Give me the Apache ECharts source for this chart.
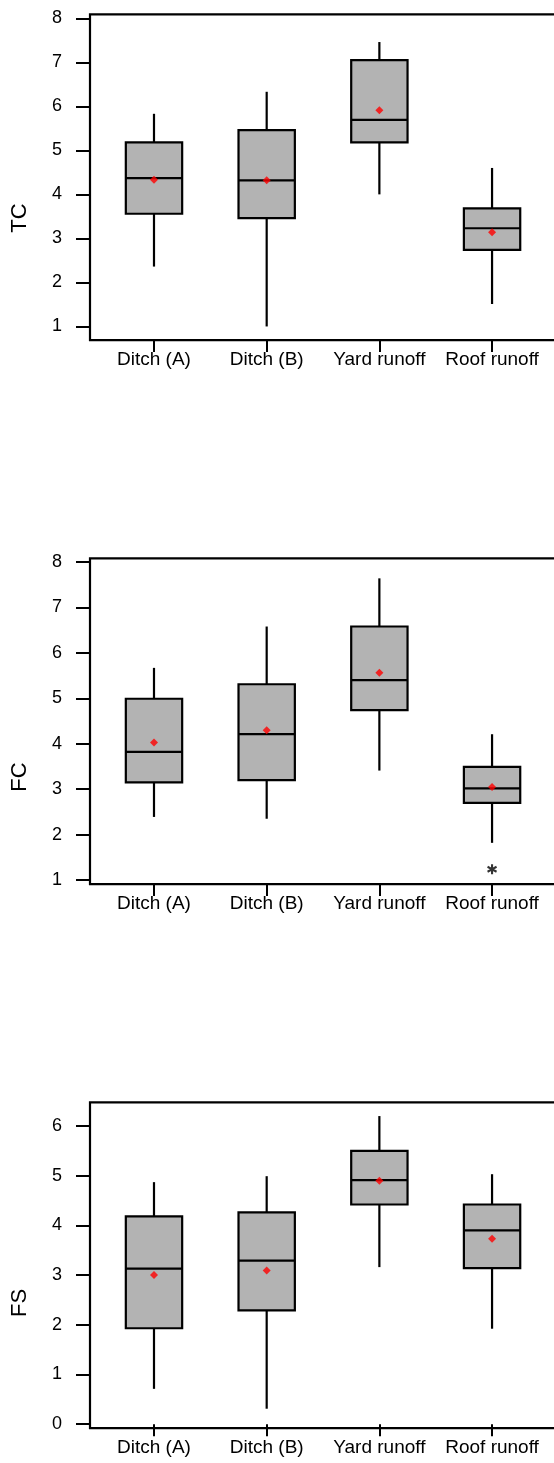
<!DOCTYPE html>
<html>
<head>
<meta charset="utf-8">
<script src="https://cdn.jsdelivr.net/npm/echarts@6/dist/echarts.min.js"></script>
<style>
html,body{margin:0;padding:0;background:#fff;}
#c{width:554px;height:1463px;}
</style>
</head>
<body>
<div id="c"></div>
<script>
// ---- data ----
const categories = ['Ditch (A)', 'Ditch (B)', 'Yard runoff', 'Roof runoff'];

// [min whisker, Q1, median, Q3, max whisker]
const tcBox = [
  [2.36, 3.56, 4.37, 5.18, 5.83],
  [1.00, 3.46, 4.32, 5.46, 6.33],
  [4.00, 5.18, 5.69, 7.05, 7.46],
  [1.51, 2.74, 3.23, 3.68, 4.60]
];
const tcMean = [4.33, 4.32, 5.91, 3.14];
const tcTicks = [1, 2, 3, 4, 5, 6, 7, 8];

const fcBox = [
  [2.39, 3.15, 3.82, 4.99, 5.67],
  [2.35, 3.20, 4.21, 5.31, 6.58],
  [3.41, 4.74, 5.40, 6.58, 7.64],
  [1.82, 2.70, 3.02, 3.49, 4.21]
];
const fcMean = [4.03, 4.30, 5.56, 3.05];
const fcOutliers = [[3, 1.24]]; // [category index, value]
const fcTicks = [1, 2, 3, 4, 5, 6, 7, 8];

const fsBox = [
  [0.71, 1.93, 3.13, 4.18, 4.87],
  [0.31, 2.29, 3.29, 4.26, 4.99],
  [3.16, 4.42, 4.91, 5.50, 6.20],
  [1.92, 3.14, 3.90, 4.42, 5.03]
];
const fsMean = [3.00, 3.09, 4.90, 3.73];
const fsTicks = [0, 1, 2, 3, 4, 5, 6];

// ---- layout ----
const FONT = '"Liberation Sans", Arial, sans-serif';
const panels = [
  { name: 'TC', box: tcBox, mean: tcMean, outliers: [], ticks: tcTicks, min: 0.69, max: 8.09, top: 14.3, titleY: 218 },
  { name: 'FC', box: fcBox, mean: fcMean, outliers: fcOutliers, ticks: fcTicks, min: 0.912, max: 8.081, top: 558.3, titleY: 777 },
  { name: 'FS', box: fsBox, mean: fsMean, outliers: [], ticks: fsTicks, min: -0.08, max: 6.477, top: 1102.3, titleY: 1303 }
];
const FRAME_H = 325.8;

function renderBox(params, api) {
  const x = api.value(0);
  const lo = api.coord([x, api.value(1)]);
  const q1 = api.coord([x, api.value(2)]);
  const med = api.coord([x, api.value(3)]);
  const q3 = api.coord([x, api.value(4)]);
  const hi = api.coord([x, api.value(5)]);
  const bw = api.size([1, 0])[0] * 0.5;
  const cx = q1[0];
  const lineStyle = { stroke: '#000', lineWidth: 2.2 };
  return {
    type: 'group',
    children: [
      { type: 'line', shape: { x1: cx, y1: lo[1], x2: cx, y2: q1[1] }, style: lineStyle },
      { type: 'line', shape: { x1: cx, y1: q3[1], x2: cx, y2: hi[1] }, style: lineStyle },
      { type: 'rect', shape: { x: cx - bw / 2, y: q3[1], width: bw, height: q1[1] - q3[1] },
        style: { fill: '#b3b3b3', stroke: '#000', lineWidth: 2.2 } },
      { type: 'line', shape: { x1: cx - bw / 2, y1: med[1], x2: cx + bw / 2, y2: med[1] }, style: lineStyle }
    ]
  };
}

const option = {
  backgroundColor: '#fff',
  animation: false,
  grid: [], xAxis: [], yAxis: [], series: [], graphic: []
};

panels.forEach((p, i) => {
  const gPlot = i * 2, gFrame = i * 2 + 1;
  option.grid.push({ left: 97.65, right: 5.6, top: p.top, height: FRAME_H, containLabel: false, outerBoundsMode: 'none' });
  option.grid.push({ left: 90, top: p.top, width: 620, height: FRAME_H, show: true, borderColor: '#000', borderWidth: 2.2,
    backgroundColor: 'transparent', containLabel: false, outerBoundsMode: 'none' });

  option.xAxis.push({
    type: 'category', gridIndex: gPlot, data: categories, boundaryGap: true,
    axisLine: { show: false },
    axisTick: { show: true, alignWithLabel: true, length: 12, lineStyle: { color: '#000', width: 2 } },
    axisLabel: { color: '#000', fontSize: 19, fontFamily: FONT, margin: 10, interval: 0 },
    splitLine: { show: false }
  });
  option.xAxis.push({ type: 'value', gridIndex: gFrame, show: false, min: 0, max: 1 });

  option.yAxis.push({
    type: 'value', gridIndex: gPlot, min: p.min, max: p.max, offset: 7.65,
    axisLine: { show: false },
    axisTick: { show: true, customValues: p.ticks, length: 14, lineStyle: { color: '#000', width: 2 } },
    axisLabel: { customValues: p.ticks, color: '#000', fontSize: 18, fontFamily: FONT, margin: 28 },
    splitLine: { show: false }
  });
  option.yAxis.push({ type: 'value', gridIndex: gFrame, show: false, min: 0, max: 1 });

  option.series.push({
    type: 'custom', xAxisIndex: gPlot, yAxisIndex: gPlot,
    renderItem: renderBox,
    encode: { x: 0, y: [1, 2, 3, 4, 5] },
    data: p.box.map((b, k) => [k].concat(b)),
    z: 2
  });
  option.series.push({
    type: 'scatter', xAxisIndex: gPlot, yAxisIndex: gPlot,
    symbol: 'diamond', symbolSize: 8,
    itemStyle: { color: '#ff0000' },
    data: p.mean.map((v, k) => [k, v]),
    z: 5
  });
  if (p.outliers.length) {
    option.series.push({
      type: 'scatter', xAxisIndex: gPlot, yAxisIndex: gPlot,
      symbol: 'path://M5,0L5,10M0.67,2.5L9.33,7.5M0.67,7.5L9.33,2.5',
      symbolSize: [9, 10],
      itemStyle: { color: 'transparent', borderColor: '#000', borderWidth: 2.2 },
      data: p.outliers,
      z: 5
    });
  }
  option.graphic.push({
    type: 'text', x: 20, y: p.titleY, rotation: Math.PI / 2,
    style: { text: p.name, fill: '#000', font: '22px "Liberation Sans", Arial, sans-serif',
      align: 'center', verticalAlign: 'middle', textAlign: 'center', textVerticalAlign: 'middle' }
  });
});

const chart = echarts.init(document.getElementById('c'), null, { renderer: 'canvas', width: 554, height: 1463 });
chart.setOption(option);
</script>
</body>
</html>
